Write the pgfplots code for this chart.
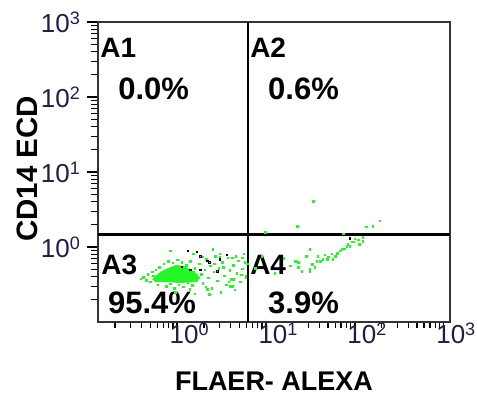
\documentclass[border=0pt]{standalone}
\usepackage{pgfplots}
\pgfplotsset{compat=1.18}
\usepackage{fontspec}
\setmainfont{Liberation Sans}
\definecolor{gr}{RGB}{40,245,40}
\definecolor{pk}{RGB}{255,110,255}
\definecolor{tl}{RGB}{30,30,70}
\newcommand\pw[1]{10\raisebox{8bp}{\fontsize{18bp}{18bp}\selectfont #1}}
\begin{document}
\begin{tikzpicture}
% log-scale tick marks, drawn first (axis box: x from 98bp, 88.889bp per decade from 10^-0.89; y from 76bp, 75bp per decade from 10^-1)
\begin{scope}[shift={(98bp,76bp)}, x=88.889bp, y=75bp]
\foreach \t in {0,1,2,3}
  \draw[line width=1.3bp, black] (\t+0.89,0) -- ++(0,-7bp);
\foreach \t in {-0.699,-0.523,-0.398,-0.301,-0.222,-0.155,-0.097,-0.046,0.301,0.477,0.602,0.699,0.778,0.845,0.903,0.954,1.301,1.477,1.602,1.699,1.778,1.845,1.903,1.954,2.301,2.477,2.602,2.699,2.778,2.845,2.903,2.954}
  \draw[line width=1.2bp, black] (\t+0.89,0) -- ++(0,-5bp);
\foreach \t in {0,1,2,3}
  \draw[line width=1.3bp, black] (0,\t+1) -- ++(-11bp,0);
\foreach \t in {-0.699,-0.523,-0.398,-0.301,-0.222,-0.155,-0.097,-0.046,0.301,0.477,0.602,0.699,0.778,0.845,0.903,0.954,1.301,1.477,1.602,1.699,1.778,1.845,1.903,1.954,2.301,2.477,2.602,2.699,2.778,2.845,2.903,2.954}
  \draw[line width=1.2bp, black] (0,\t+1) -- ++(-7bp,0);
\end{scope}
\begin{axis}[
 at={(98bp,76bp)}, anchor=south west,
 width=352bp, height=300bp, scale only axis,
 xmin=-0.89, xmax=3.07, ymin=-1, ymax=3,
 axis line style={line width=1.8bp, black!80},
 xtick={0,1,2,3}, xticklabels={\pw{0},\pw{1},\pw{2},\pw{3}},
 ytick={0,1,2,3}, yticklabels={\pw{0},\pw{1},\pw{2},\pw{3}},
 minor xtick={-0.699,-0.523,-0.398,-0.301,-0.222,-0.155,-0.097,-0.046,0.301,0.477,0.602,0.699,0.778,0.845,0.903,0.954,1.301,1.477,1.602,1.699,1.778,1.845,1.903,1.954,2.301,2.477,2.602,2.699,2.778,2.845,2.903,2.954},
 minor ytick={-0.699,-0.523,-0.398,-0.301,-0.222,-0.155,-0.097,-0.046,0.301,0.477,0.602,0.699,0.778,0.845,0.903,0.954,1.301,1.477,1.602,1.699,1.778,1.845,1.903,1.954,2.301,2.477,2.602,2.699,2.778,2.845,2.903,2.954},
 tick align=outside, xtick pos=bottom, ytick pos=left,
 major tick length=10bp, minor tick length=6bp,
 every tick/.append style={line width=1.3bp, black},
 ticklabel style={font=\fontsize{26bp}{26bp}\selectfont, text=tl},
 xticklabel style={anchor=north, inner sep=0pt, xshift=12bp},
 xticklabel shift=-9bp,
 yticklabel style={anchor=east, inner sep=0pt},
 yticklabel shift=8bp,
 xlabel={FLAER- ALEXA}, ylabel={CD14 ECD},
 label style={font=\fontsize{27bp}{27bp}\selectfont\bfseries},
 xlabel style={at={(axis description cs:0.5,-0.167)}, anchor=north, inner sep=0pt},
 ylabel style={at={(axis description cs:-0.230,0.51)}, anchor=north, inner sep=0pt, font=\fontsize{29.5bp}{29.5bp}\selectfont\bfseries},
]
% dense core of the population in A3
\addplot[fill=gr, draw=none] coordinates {(-0.281,-0.427) (-0.191,-0.333) (-0.101,-0.280) (-0.011,-0.240) (0.079,-0.253) (0.146,-0.293) (0.213,-0.347) (0.258,-0.413) (0.213,-0.467) (0.034,-0.480) (-0.135,-0.467) (-0.247,-0.467)} -- cycle;
% scattered events (log10 values)
\addplot[only marks, mark=square*, mark size=0.8bp, gr, mark options={draw=none, fill=gr}] table {
x y
-0.38 -0.40
-0.33 -0.36
-0.30 -0.46
-0.27 -0.38
-0.24 -0.30
-0.22 -0.50
-0.20 -0.27
-0.18 -0.44
-0.15 -0.22
-0.12 -0.52
-0.10 -0.19
-0.08 -0.49
-0.05 -0.21
-0.03 -0.55
0.00 -0.17
0.02 -0.50
0.05 -0.20
0.07 -0.53
0.10 -0.24
0.12 -0.47
0.15 -0.19
0.17 -0.51
0.20 -0.28
0.22 -0.44
0.25 -0.22
0.27 -0.36
0.29 -0.48
0.31 -0.30
0.33 -0.16
0.35 -0.41
0.37 -0.25
0.39 -0.55
0.41 -0.33
0.43 -0.12
0.45 -0.45
0.47 -0.28
0.49 -0.60
0.51 -0.20
0.53 -0.38
0.55 -0.50
0.57 -0.14
0.59 -0.31
0.61 -0.43
0.63 -0.24
0.65 -0.57
0.67 -0.35
0.69 -0.18
0.71 -0.46
0.73 -0.29
0.75 -0.09
0.77 -0.40
0.79 -0.22
-0.28 -0.33
-0.35 -0.44
-0.41 -0.42
-0.17 -0.36
0.08 -0.38
0.18 -0.33
0.24 -0.41
0.14 -0.56
-0.02 -0.60
0.32 -0.53
0.42 -0.22
0.58 -0.46
0.66 -0.12
0.72 -0.37
0.36 -0.63
0.28 -0.13
0.48 -0.09
0.62 -0.52
0.52 -0.27
-0.08 -0.05
0.40 -0.03
0.48 -0.13
0.63 -0.43
0.60 -0.52
0.20 -0.62
0.34 -0.56
0.18 -0.09
0.62 -0.14
0.73 -0.14
0.76 -0.20
0.77 -0.39
1.36 -0.20
1.49 -0.29
1.57 -0.19
1.64 -0.16
1.69 -0.16
1.74 -0.09
1.83 -0.05
1.94 0.01
1.98 0.07
2.09 0.13
2.09 0.08
1.36 -0.27
1.40 -0.32
1.49 -0.32
1.52 -0.23
1.61 -0.19
1.70 -0.13
1.75 -0.16
1.85 -0.03
1.91 0.01
1.97 0.07
2.00 0.11
1.49 -0.03
1.33 -0.19
1.27 -0.25
1.55 -0.27
1.66 -0.10
1.80 -0.08
1.88 -0.02
1.92 0.04
2.04 0.10
0.95 -0.12
1.10 -0.35
1.20 -0.15
0.88 -0.28
1.45 -0.12
1.58 -0.12
1.78 -0.12
2.05 0.04
2.13 0.27
2.20 0.28
2.28 0.35
1.53 0.61
0.99 0.20
1.35 0.28
1.87 0.18
};
\addplot[only marks, mark=square*, mark size=0.8bp, mark options={draw=none, fill=pk}] table {
x y
0.12 -0.05
0.26 -0.12
0.45 -0.32
0.48 -0.16
0.22 -0.06
0.34 -0.18
1.94 0.12
0.56 -0.10
};
\addplot[only marks, mark=square*, mark size=0.8bp, mark options={draw=none, fill=black!30}] table {
x y
0.05 -0.26
0.26 -0.30
0.36 -0.20
0.15 -0.30
};
% quadrant gates
\addplot[black, line width=3.5bp] coordinates {(-0.89,0.164) (3.07,0.164)};
\addplot[black, line width=2.2bp] coordinates {(0.80,-1) (0.80,3)};
% quadrant names and percentages
\node[anchor=base west, inner sep=0pt, font=\fontsize{28bp}{28bp}\selectfont\bfseries] at (rel axis cs:0.006,0.883) {A1};
\node[anchor=base west, inner sep=0pt, font=\fontsize{28bp}{28bp}\selectfont\bfseries] at (rel axis cs:0.432,0.880) {A2};
\node[anchor=base west, inner sep=0pt, font=\fontsize{28bp}{28bp}\selectfont\bfseries] at (rel axis cs:0.009,0.157) {A3};
\node[anchor=base west, inner sep=0pt, font=\fontsize{28bp}{28bp}\selectfont\bfseries] at (rel axis cs:0.432,0.157) {A4};
\node[anchor=base west, inner sep=0pt, font=\fontsize{31bp}{31bp}\selectfont\bfseries] at (rel axis cs:0.057,0.740) {0.0\%};
\node[anchor=base west, inner sep=0pt, font=\fontsize{31bp}{31bp}\selectfont\bfseries] at (rel axis cs:0.483,0.740) {0.6\%};
\node[anchor=base west, inner sep=0pt, font=\fontsize{31bp}{31bp}\selectfont\bfseries] at (rel axis cs:0.028,0.027) {95.4\%};
\node[anchor=base west, inner sep=0pt, font=\fontsize{31bp}{31bp}\selectfont\bfseries] at (rel axis cs:0.483,0.027) {3.9\%};
\end{axis}
\path (0,0) rectangle (477bp,398bp);
\end{tikzpicture}
\end{document}
